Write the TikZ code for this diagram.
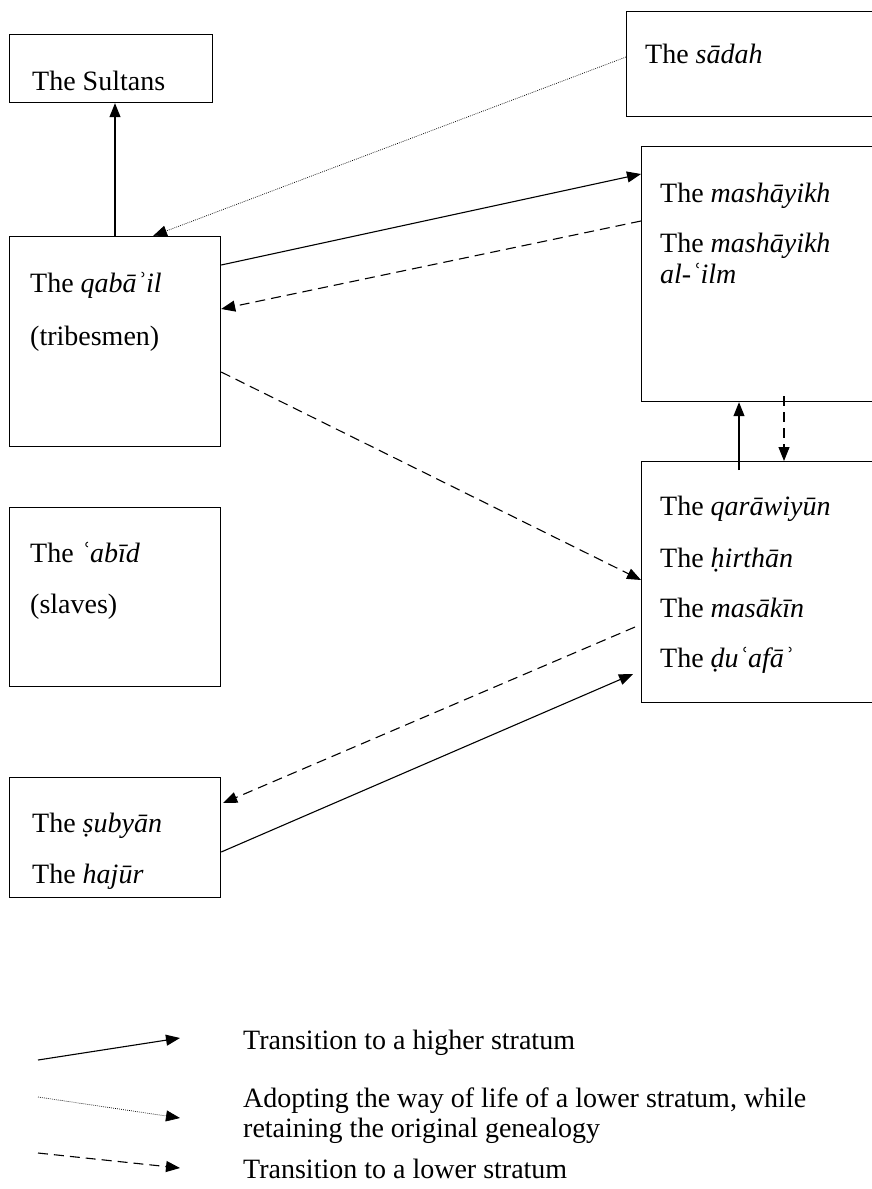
\documentclass[tikz,border=0pt]{standalone}
\usepackage{fontspec}
\setmainfont{Liberation Serif}
\usetikzlibrary{positioning,calc,arrows.meta}

\tikzset{
	box/.style={draw, line width=1.2pt, anchor=north west, inner sep=0pt},
	lbl/.style={anchor=base west, inner sep=0pt, font=\fontsize{28}{31}\selectfont},
	tip/.style={-{Triangle[length=14pt,width=11pt]}},
	rise/.style={tip, line width=1.1pt},
	fall/.style={rise, dash pattern=on 10pt off 6pt},
	adopt/.style={tip, line width=0.7pt, dash pattern=on 0.8pt off 1.2pt},
}

\begin{document}
\begin{tikzpicture}[x=1pt, y=-1pt]
	\useasboundingbox (0,0) rectangle (871,1189);

	% strata
	\node[box, minimum width=203, minimum height=68] (sultans) at (9,34) {};
	\node[box, minimum width=255, minimum height=105] (sadah) at (626,11) {};
	\node[box, minimum width=211, minimum height=210] (qabail) at (9,236) {};
	\node[box, minimum width=240, minimum height=255] (mashayikh) at (641,146) {};
	\node[box, minimum width=211, minimum height=179] (abid) at (9,507) {};
	\node[box, minimum width=240, minimum height=241] (qarawiyun) at (641,461) {};
	\node[box, minimum width=211, minimum height=120] (subyan) at (9,777) {};

	\node[lbl] (t-sultans) at (32,90) {The Sultans};
	\node[lbl] (t-sadah) at (645,63) {The \textit{sādah}};
	\node[lbl] (t-mash) at (660,202) {The \textit{mashāyikh}};
	\node[lbl] (t-mash2) at (660,252) {The \textit{mashāyikh}};
	\node[lbl] (t-ilm) at (660,283) {\textit{al-ʿilm}};
	\node[lbl] (t-qabail) at (30,292) {The \textit{qabāʾil}};
	\node[lbl] (t-tribe) at (30,345) {(tribesmen)};
	\node[lbl] (t-abid) at (30,562) {The \textit{ʿabīd}};
	\node[lbl] (t-slaves) at (30,613) {(slaves)};
	\node[lbl] (t-qara) at (660,515) {The \textit{qarāwiyūn}};
	\node[lbl] (t-hirth) at (660,567) {The \textit{ḥirthān}};
	\node[lbl] (t-masak) at (660,617) {The \textit{masākīn}};
	\node[lbl] (t-duafa) at (660,667) {The \textit{ḍuʿafāʾ}};
	\node[lbl] (t-subyan) at (32,832) {The \textit{ṣubyān}};
	\node[lbl] (t-hajur) at (32,883) {The \textit{hajūr}};

	% moves between strata
	\draw[rise]  ($(qabail.north west)+(106,0)$) to ($(sultans.south west)+(106,0)$);
	\draw[adopt] ($(sadah.north west)+(0,46)$) to ($(qabail.north west)+(144,0)$);
	\draw[rise]  ($(qabail.north east)+(0,29)$) to ($(mashayikh.north west)+(0,28)$);
	\draw[fall]  ($(mashayikh.north west)+(0,75)$) to ($(qabail.north east)+(0,73)$);
	\draw[fall]  ($(qabail.north east)+(0,136)$) to ($(qarawiyun.north west)+(0,119)$);
	\draw[rise]  ($(qarawiyun.north west)+(98,9)$) to ($(mashayikh.south west)+(98,0)$);
	\draw[fall]  ($(mashayikh.south west)+(143,-6)$) to ($(qarawiyun.north west)+(143,0)$);
	\draw[fall]  ($(qarawiyun.north west)+(-6,166)$) to ($(subyan.north east)+(2,26)$);
	\draw[rise]  ($(subyan.north east)+(0,75)$) to ($(qarawiyun.north west)+(-8,213)$);

	% key
	\coordinate (k1a) at (38,1060);
	\coordinate (k1b) at (180,1038);
	\coordinate (k2a) at (38,1097);
	\coordinate (k2b) at (180,1118);
	\coordinate (k3a) at (38,1153);
	\coordinate (k3b) at (180,1168);
	\draw[rise]  (k1a) to (k1b);
	\draw[adopt] (k2a) to (k2b);
	\draw[fall]  (k3a) to (k3b);

	\node[lbl] (key-up) at (243,1049) {Transition to a higher stratum};
	\node[lbl] (key-adopt) at (243,1107) {Adopting the way of life of a lower stratum, while};
	\node[lbl] (key-adopt2) at (243,1137) {retaining the original genealogy};
	\node[lbl] (key-down) at (243,1178) {Transition to a lower stratum};
\end{tikzpicture}
\end{document}
